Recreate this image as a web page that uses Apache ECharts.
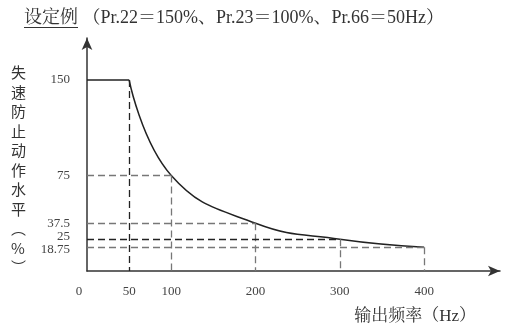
<!DOCTYPE html>
<html>
<head>
<meta charset="utf-8">
<script src="https://cdn.jsdelivr.net/npm/echarts@6/dist/echarts.min.js"></script>
<style>html,body{margin:0;padding:0;background:#fff}#c{width:506px;height:329px}</style>
</head>
<body>
<div id="c"></div>
<script>
// ---- data ----
var titleText = '设定例 （Pr.22＝150%、Pr.23＝100%、Pr.66＝50Hz）';
var yAxisName = ['失','速','防','止','动','作','水','平','︵','%','︶'];
var xAxisName = '输出频率（Hz）';
var freqTicks = [0, 50, 100, 200, 300, 400];
var levelTicks = [150, 75, 37.5, 25];
var levelTicksLow = [18.75];
var flatFreq = [0, 50];
var flatLevel = [150, 150];
var curveFreq = [50, 100, 200, 300, 400];
var curveLevel = [150, 75, 37.5, 25, 18.75];
// guide lines: vertical from point to axis, horizontal from axis to point
var guideFreq = [50, 100, 200, 300, 400];
var guideLevel = [150, 75, 37.5, 25, 18.75];
var guideHasHoriz = [false, true, true, true, true];
var darkVert = [true, false, false, false, false];
var darkHoriz = [false, false, false, true, false];

var serif = "'Liberation Serif','Noto Serif CJK SC','Noto Sans CJK SC',serif";
var chart = echarts.init(document.getElementById('c'), null, {renderer: 'canvas'});

function pairs(xs, ys) { return xs.map(function (x, i) { return [x, ys[i]]; }); }

var markData = [];
guideFreq.forEach(function (f, i) {
  var lv = guideLevel[i];
  markData.push([{coord: [f, lv], lineStyle: {color: darkVert[i] ? '#222' : '#777'}}, {coord: [f, 0]}]);
  if (guideHasHoriz[i]) {
    markData.push([{coord: [0, lv], lineStyle: {color: darkHoriz[i] ? '#222' : '#777'}}, {coord: [f, lv]}]);
  }
});

var labelStyle = {fontFamily: serif, fontSize: 13, color: '#444'};
var yBase = {
  type: 'value', min: 0, max: 183, position: 'left',
  axisTick: {show: false},
  splitLine: {show: false}
};

var option = {
  animation: false,
  title: {
    text: titleText,
    left: 24, top: 9, padding: 0,
    textStyle: {fontFamily: serif, fontSize: 18, fontWeight: 'normal', color: '#333'}
  },
  grid: {left: 87, right: 6, top: 38, bottom: 58, containLabel: false},
  xAxis: {
    type: 'value', min: 0, max: 490,
    axisLine: {show: true, onZero: false, symbol: ['none', 'arrow'], symbolSize: [8, 12], lineStyle: {color: '#333', width: 1.5}},
    axisTick: {show: false},
    splitLine: {show: false},
    axisLabel: {
      customValues: freqTicks,
      margin: 14,
      hideOverlap: false,
      fontFamily: serif, fontSize: 13, color: '#444',
      formatter: function (v) { return v === 0 ? '{o|0}' : String(v); },
      rich: {o: Object.assign({padding: [0, 16, 0, 0]}, labelStyle)}
    },
    name: xAxisName,
    nameLocation: 'end',
    nameGap: -24,
    nameTextStyle: {fontFamily: serif, fontSize: 17, color: '#333', align: 'right', verticalAlign: 'top', padding: [37, 0, 0, 0]}
  },
  yAxis: [
    Object.assign({}, yBase, {
      axisLine: {show: true, onZero: false, symbol: ['none', 'arrow'], symbolSize: [8, 12], lineStyle: {color: '#333', width: 1.5}},
      axisLabel: {
        customValues: levelTicks,
        margin: 17, hideOverlap: false, showMinLabel: true, showMaxLabel: true,
        fontFamily: serif, fontSize: 13, color: '#444',
        formatter: function (v) { return v === 25 ? '{up|25}' : String(v); },
        rich: {up: Object.assign({padding: [0, 0, 5, 0]}, labelStyle)}
      }
    }),
    Object.assign({}, yBase, {
      axisLine: {show: false},
      axisLabel: {
        customValues: levelTicksLow,
        margin: 17, hideOverlap: false, showMinLabel: true,
        fontFamily: serif, fontSize: 13, color: '#444',
        formatter: function (v) { return '{dn|' + v + '}'; },
        rich: {dn: Object.assign({padding: [4, 0, 0, 0]}, labelStyle)}
      }
    })
  ],
  graphic: [
    {type: 'text', left: 11, top: 63, style: {text: yAxisName.join('\n'), font: "15px 'Noto Sans CJK SC'", fill: '#333', lineHeight: 19.5, align: 'center'}},
    {type: 'line', shape: {x1: 24, y1: 27.5, x2: 78, y2: 27.5}, style: {stroke: '#333', lineWidth: 1}}
  ],
  series: [
    {
      type: 'line', data: pairs(flatFreq, flatLevel), symbol: 'none',
      lineStyle: {color: '#222', width: 1.5}
    },
    {
      type: 'line', data: pairs(curveFreq, curveLevel), symbol: 'none', smooth: 0.45,
      lineStyle: {color: '#222', width: 1.5},
      markLine: {
        silent: true, symbol: ['none', 'none'], label: {show: false},
        lineStyle: {type: [7, 4], width: 1.3, color: '#777'},
        data: markData
      }
    }
  ]
};
chart.setOption(option);
</script>
</body>
</html>
